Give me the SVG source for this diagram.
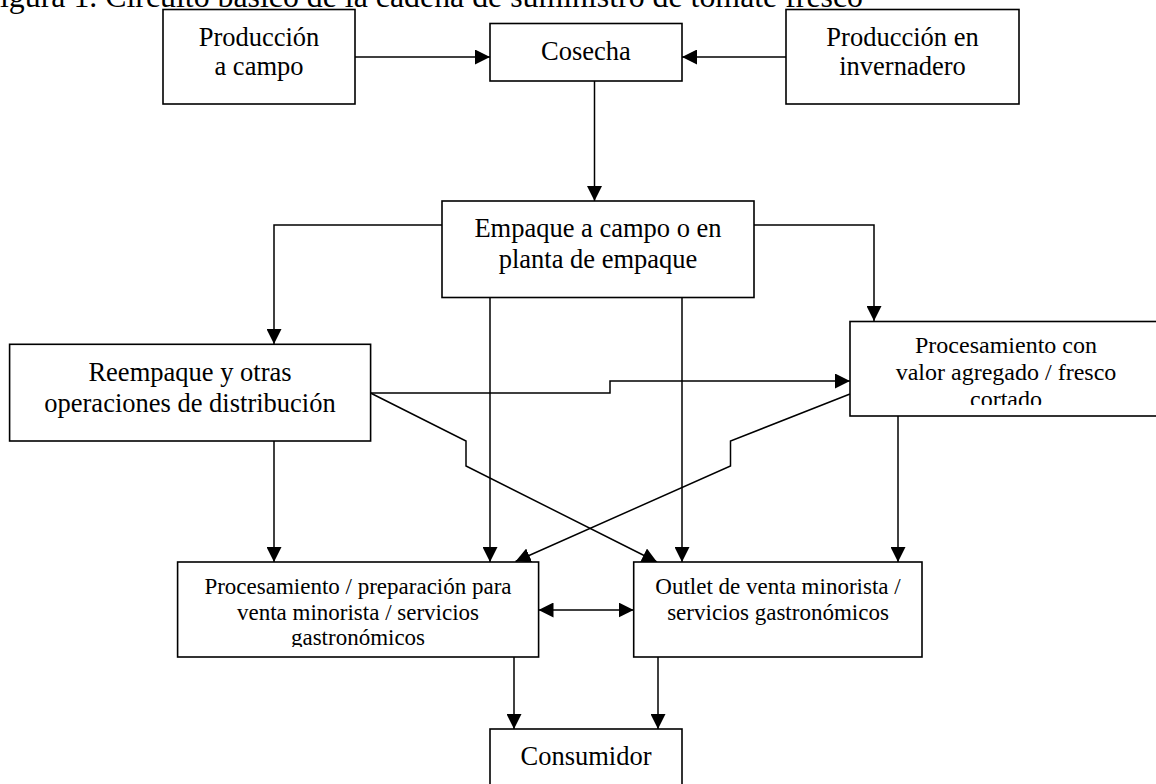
<svg xmlns="http://www.w3.org/2000/svg" width="1156" height="784" viewBox="0 0 1156 784">
<style>
text{font-family:"Liberation Serif","Times New Roman",serif;fill:#000;text-anchor:middle}
.big{font-size:26.5px}
.sm{font-size:23px}
.md{font-size:24px}
.box{fill:#fff;stroke:#000;stroke-width:1.6}
.ln{fill:none;stroke:#000;stroke-width:1.5;marker-end:url(#ah)}
</style>
<defs>
<marker id="ah" markerUnits="userSpaceOnUse" markerWidth="15" markerHeight="15" refX="15" refY="7.5" orient="auto-start-reverse">
<path d="M0,0 L15,7.5 L0,15 Z" fill="#000"/>
</marker>
<clipPath id="cpv"><rect x="850" y="321" width="320" height="84"/></clipPath>
<clipPath id="cpp"><rect x="178" y="562" width="360" height="85"/></clipPath>
</defs>
<text x="0" y="7" style="font-size:32px;text-anchor:start" textLength="863" lengthAdjust="spacingAndGlyphs">igura 1. Circuito básico de la cadena de suministro de tomate fresco</text>
<g id="connectors">
<path class="ln" d="M355,57 L490,57"/>
<path class="ln" d="M786,57 L682,57"/>
<path class="ln" d="M594.5,81 L594.5,201"/>
<path class="ln" d="M442,225 L274,225 L274,344"/>
<path class="ln" d="M754,225 L874,225 L874,321"/>
<path class="ln" d="M490,297 L490,562"/>
<path class="ln" d="M682,297 L682,562"/>
<path class="ln" d="M370.5,393 L610,393 L610,381 L850,381"/>
<path class="ln" d="M370.5,393 L466,441 L466,466 L657,562"/>
<path class="ln" d="M850,394 L730.5,441 L730.5,466 L515.5,561.5"/>
<path class="ln" d="M274,441 L274,562"/>
<path class="ln" d="M898,416 L898,562"/>
<path class="ln" d="M538.5,610 L633.7,610" style="marker-start:url(#ah)"/>
<path class="ln" d="M514,657 L514,729"/>
<path class="ln" d="M658,657 L658,729"/>
</g>
<g id="produccion-campo">
<rect class="box" x="163" y="9.5" width="192" height="94.5"/>
<text class="big" x="259" y="46">Producción</text>
<text class="big" x="259" y="75">a campo</text>
</g>
<g id="cosecha">
<rect class="box" x="490" y="23.5" width="192" height="57.5"/>
<text class="big" x="586" y="59.5">Cosecha</text>
</g>
<g id="produccion-invernadero">
<rect class="box" x="786" y="9.5" width="233" height="94.5"/>
<text class="big" x="902.5" y="46">Producción en</text>
<text class="big" x="902.5" y="75">invernadero</text>
</g>
<g id="empaque">
<rect class="box" x="442" y="201" width="312" height="96.5"/>
<text class="big" x="598" y="237">Empaque a campo o en</text>
<text class="big" x="598" y="268">planta de empaque</text>
</g>
<g id="reempaque">
<rect class="box" x="9.6" y="344.3" width="361" height="96.7"/>
<text class="big" x="190" y="381">Reempaque y otras</text>
<text class="big" x="190" y="412">operaciones de distribución</text>
</g>
<g id="procesamiento-valor">
<rect class="box" x="850" y="321.5" width="330" height="94.5"/>
<g clip-path="url(#cpv)">
<text class="md" x="1006" y="353">Procesamiento con</text>
<text class="md" x="1006" y="380">valor agregado / fresco</text>
<text class="md" x="1006" y="407">cortado</text>
</g>
</g>
<g id="procesamiento-preparacion">
<rect class="box" x="177.6" y="562" width="361" height="95"/>
<g clip-path="url(#cpp)">
<text class="sm" x="358" y="594">Procesamiento / preparación para</text>
<text class="sm" x="358" y="620">venta minorista / servicios</text>
<text class="sm" x="358" y="645">gastronómicos</text>
</g>
</g>
<g id="outlet">
<rect class="box" x="633.7" y="562" width="288.3" height="95"/>
<text class="sm" x="778" y="594">Outlet de venta minorista /</text>
<text class="sm" x="778" y="620">servicios gastronómicos</text>
</g>
<g id="consumidor">
<rect class="box" x="490" y="729" width="192" height="80"/>
<text class="big" x="586" y="765">Consumidor</text>
</g>
</svg>
